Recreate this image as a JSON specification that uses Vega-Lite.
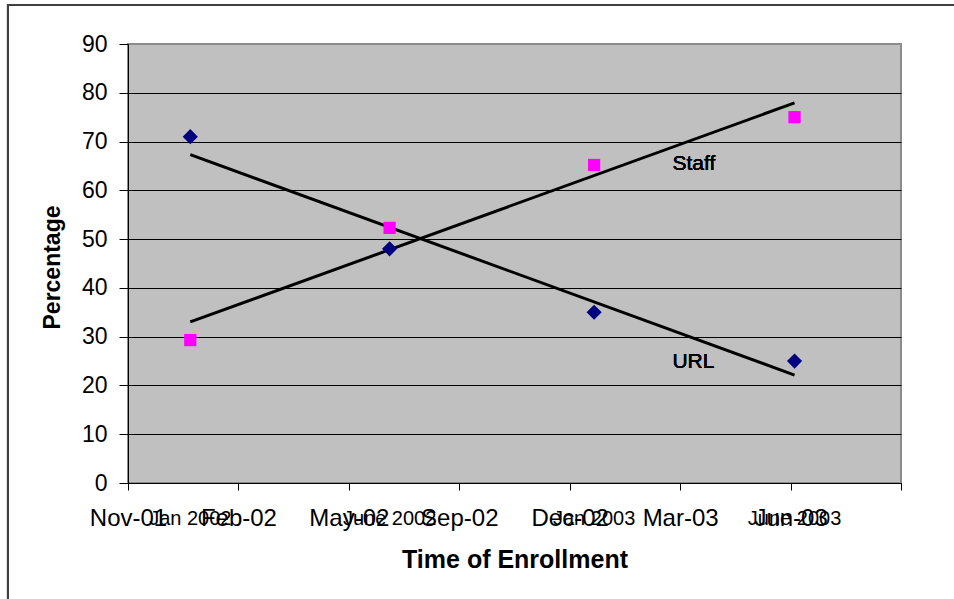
{
  "$schema": "https://vega.github.io/schema/vega-lite/v6.json",
  "width": 773,
  "height": 439,
  "autosize": {"type": "none"},
  "padding": {"left": 128, "top": 44, "right": 53, "bottom": 116},
  "background": "white",
  "config": {
    "font": "Liberation Sans",
    "view": {"fill": "#C0C0C0", "stroke": "#8c8c8c", "strokeWidth": 2},
    "axis": {
      "domainColor": "black",
      "domainWidth": 1,
      "tickColor": "black",
      "tickWidth": 1,
      "labelColor": "black",
      "titleColor": "black",
      "gridColor": "black",
      "gridWidth": 1,
      "labelFont": "Liberation Sans",
      "titleFont": "Liberation Sans"
    }
  },
  "data": {
    "values": [
      {"t": 0.564, "period": "Jan 2002", "URL": 71, "Staff": 29.3},
      {"t": 2.369, "period": "June 2002", "URL": 48, "Staff": 52.3},
      {"t": 4.221, "period": "Jan 2003", "URL": 35, "Staff": 65.2},
      {"t": 6.036, "period": "June 2003", "URL": 25, "Staff": 75}
    ]
  },
  "layer": [
    {
      "transform": [{"regression": "URL", "on": "t"}],
      "mark": {"type": "line", "color": "black", "strokeWidth": 3},
      "encoding": {
        "x": {
          "field": "t",
          "type": "quantitative",
          "scale": {"domain": [0, 7], "nice": false, "zero": false},
          "axis": {
            "values": [0, 1, 2, 3, 4, 5, 6, 7],
            "labelExpr": "['Nov-01','Feb-02','May-02','Sep-02','Dec-02','Mar-03','Jun-03',''][datum.value]",
            "title": "Time of Enrollment",
            "grid": false,
            "tickSize": 7,
            "labelFontSize": 24,
            "labelBaseline": "alphabetic",
            "labelPadding": 35,
            "labelOverlap": false,
            "labelFlush": false,
            "titleFontSize": 25,
            "titleFontWeight": "bold",
            "titleY": 84,
            "titleBaseline": "alphabetic"
          }
        },
        "y": {
          "field": "URL",
          "type": "quantitative",
          "scale": {"domain": [0, 90], "nice": false, "zero": true},
          "axis": {
            "values": [0, 10, 20, 30, 40, 50, 60, 70, 80, 90],
            "title": "Percentage",
            "grid": true,
            "gridOpacity": {"condition": {"test": "datum.value == 90", "value": 0}, "value": 1},
            "tickSize": 9,
            "labelPadding": 12,
            "labelFontSize": 23,
            "titleFontSize": 23,
            "titleFontWeight": "bold",
            "titleAngle": -90,
            "titleX": -76,
            "titleY": 223,
            "titleAlign": "center",
            "titleBaseline": "middle"
          }
        }
      }
    },
    {
      "mark": {"type": "rect", "fill": "white", "fillOpacity": 0, "stroke": "#404040", "strokeWidth": 2},
      "encoding": {
        "x": {"datum": -1.087, "type": "quantitative"},
        "x2": {"datum": 8},
        "y": {"datum": 98.0, "type": "quantitative"},
        "y2": {"datum": -30}
      }
    },
    {
      "transform": [{"regression": "Staff", "on": "t"}],
      "mark": {"type": "line", "color": "black", "strokeWidth": 3},
      "encoding": {
        "x": {"field": "t", "type": "quantitative"},
        "y": {"field": "Staff", "type": "quantitative"}
      }
    },
    {
      "mark": {"type": "point", "shape": "diamond", "filled": true, "color": "#000080", "size": 230, "opacity": 1},
      "encoding": {
        "x": {"field": "t", "type": "quantitative"},
        "y": {"field": "URL", "type": "quantitative"}
      }
    },
    {
      "mark": {"type": "point", "shape": "square", "filled": true, "color": "#FF00FF", "size": 150, "opacity": 1},
      "encoding": {
        "x": {"field": "t", "type": "quantitative"},
        "y": {"field": "Staff", "type": "quantitative"}
      }
    },
    {
      "mark": {"type": "text", "fontSize": 20, "align": "center", "baseline": "alphabetic", "color": "black"},
      "encoding": {
        "x": {"field": "t", "type": "quantitative"},
        "y": {"datum": -8.6, "type": "quantitative"},
        "text": {"field": "period"}
      }
    },
    {
      "mark": {"type": "text", "fontSize": 21, "align": "left", "baseline": "middle", "color": "black", "fontWeight": "normal"},
      "encoding": {
        "x": {"datum": 4.93, "type": "quantitative"},
        "y": {"datum": 65.3, "type": "quantitative"},
        "text": {"value": "Staff"}
      }
    },
    {
      "mark": {"type": "text", "fontSize": 21, "align": "left", "baseline": "middle", "color": "black", "fontWeight": "normal"},
      "encoding": {
        "x": {"datum": 4.93, "type": "quantitative"},
        "y": {"datum": 24.8, "type": "quantitative"},
        "text": {"value": "URL"}
      }
    }
  ]
}
